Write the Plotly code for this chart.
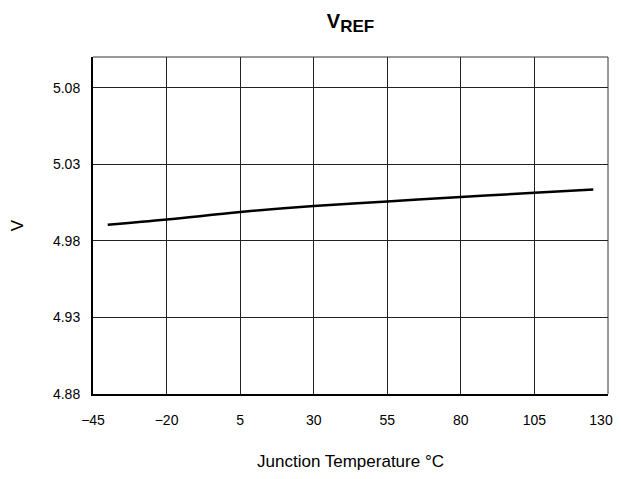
import plotly.graph_objects as go

temperature = [-40, -20, 5, 30, 55, 80, 105, 125]
vref = [4.9905, 4.9939, 4.9988, 5.0027, 5.0057, 5.0086, 5.0114, 5.0135]

x_ticks = [-45, -20, 5, 30, 55, 80, 105, 130]
y_ticks = [4.88, 4.93, 4.98, 5.03, 5.08]
y_grid = y_ticks + [5.10]


def x_label(v):
    s = ("\u2212" + str(-v)) if v < 0 else str(v)
    # last label sits at the right edge; pad it so it stays inside the window
    return s + "\u2003" if v == x_ticks[-1] else s


fig = go.Figure()
fig.add_trace(go.Scatter(x=temperature, y=vref, mode="lines",
                         line=dict(color="black", width=2.5, shape="spline"),
                         showlegend=False))

font = dict(family="Liberation Sans, Arial, sans-serif", size=14, color="black")

# page body has an 8px margin, so the figure is sized to fit the 621x479 window
fig.update_layout(
    width=613, height=463,
    margin=dict(l=85, r=13, t=49, b=77, autoexpand=False),
    paper_bgcolor="white", plot_bgcolor="white",
    font=font,
    title=dict(text="<b>V<sub><span style='font-size:17px'>REF</span></sub></b>",
               xref="paper", x=0.5, xanchor="center",
               y=0.9715, yanchor="middle",
               font=dict(size=20, family=font["family"], color="black")),
    xaxis=dict(range=[-45, 130], tickvals=x_ticks,
               ticktext=[x_label(v) for v in x_ticks],
               showgrid=True, gridcolor="#222", gridwidth=1,
               showline=True, linecolor="black", linewidth=2, zeroline=False,
               ticks="", ticklabelstandoff=12, automargin=False,
               ticklabeloverflow="allow",
               title=dict(text="Junction Temperature \u00b0C", standoff=35)),
    yaxis=dict(range=[4.88, 5.10], tickvals=y_grid,
               ticktext=[f"{v:.2f}" for v in y_ticks] + [""],
               showgrid=True, gridcolor="#222", gridwidth=1,
               showline=True, linecolor="black", linewidth=2, zeroline=False,
               ticks="", ticklabelstandoff=8, automargin=False,
               title=dict(text="V", standoff=25)),
)

fig.add_shape(type="line", xref="paper", yref="paper", x0=0, x1=1, y0=1, y1=1,
              line=dict(color="#333", width=1))
fig.add_shape(type="line", xref="paper", yref="paper", x0=1, x1=1, y0=0, y1=1,
              line=dict(color="#333", width=1))

fig.write_html("out.html")
